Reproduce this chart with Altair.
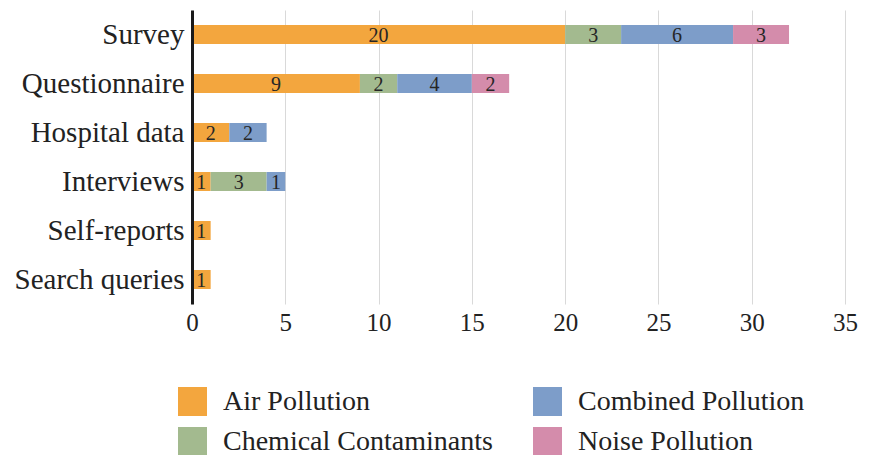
import altair as alt
import pandas as pd

methods = ["Survey", "Questionnaire", "Hospital data", "Interviews", "Self-reports", "Search queries"]
series = ["Air Pollution", "Chemical Contaminants", "Combined Pollution", "Noise Pollution"]
air = [20, 9, 2, 1, 1, 1]
chemical = [3, 2, 0, 3, 0, 0]
combined = [6, 4, 2, 1, 0, 0]
noise = [3, 2, 0, 0, 0, 0]

colors = ["#F3A63E", "#A3BA8F", "#7D9DC9", "#D48CAB"]
x_ticks = [0, 5, 10, 15, 20, 25, 30, 35]

rows = []
for s_idx, (name, vals) in enumerate(zip(series, [air, chemical, combined, noise])):
    for m, v in zip(methods, vals):
        rows.append({"method": m, "series": name, "value": v, "order": s_idx})
df = pd.DataFrame(rows)

FONT = "Liberation Serif"

base = alt.Chart(df).transform_filter("datum.value > 0").transform_stack(
    stack="value", groupby=["method"], as_=["x0", "x1"],
    sort=[alt.SortField("order", order="ascending")]
)

y_enc = alt.Y("method:N", sort=methods, title=None,
              axis=alt.Axis(domain=True, domainColor="#1a1a1a", domainWidth=3,
                            ticks=False, grid=False, labelFont=FONT, labelFontSize=29,
                            labelColor="#222222", labelPadding=8, labelLimit=400, zindex=1))

bars = base.mark_bar(size=19).encode(
    x=alt.X("x0:Q", scale=alt.Scale(domain=[0, 35], nice=False), title=None,
            axis=alt.Axis(values=x_ticks, grid=True, gridColor="#d9d9d9", gridWidth=1,
                          domain=False, ticks=False, labelFont=FONT, labelFontSize=25,
                          labelColor="#222222", labelPadding=6, labelFlush=False)),
    x2="x1:Q",
    y=y_enc,
    color=alt.Color("series:N", scale=alt.Scale(domain=series, range=colors),
                    legend=alt.Legend(title=None, orient="none", legendX=-14, legendY=377,
                                      columns=2, direction="vertical", symbolType="square",
                                      symbolSize=841, symbolStrokeWidth=0, labelFont=FONT,
                                      labelFontSize=28, labelColor="#222222", labelOffset=16,
                                      labelLimit=500, columnPadding=40, rowPadding=11)),
)

labels = base.transform_calculate(mid="(datum.x0 + datum.x1) / 2").mark_text(
    font=FONT, fontSize=20, color="#262626", align="center", baseline="middle", dy=1
).encode(
    x=alt.X("mid:Q"),
    y=alt.Y("method:N", sort=methods),
    text=alt.Text("value:Q"),
)

chart = alt.layer(bars, labels).properties(
    width=653, height=294,
    autosize=alt.AutoSizeParams(type="none"),
    padding={"left": 184, "top": 2, "right": 20, "bottom": 151},
).configure_view(stroke=None)

chart.save("out.html", embed_options={"renderer": "svg", "actions": False})
